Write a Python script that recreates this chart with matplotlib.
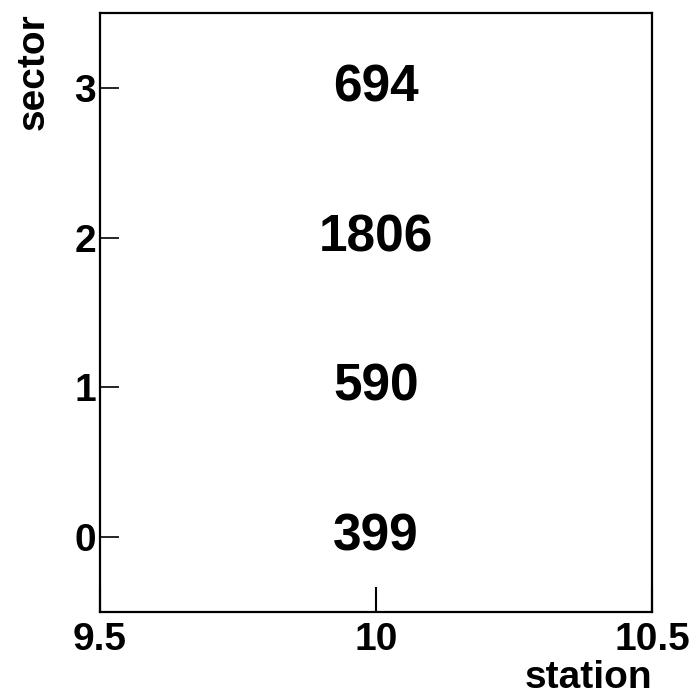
import numpy as np
import matplotlib
matplotlib.use('Agg')
import matplotlib.pyplot as plt

station = [10, 10, 10, 10]
sector = [0, 1, 2, 3]
counts = [399, 590, 1806, 694]

plt.rcParams['font.family'] = ['Liberation Sans', 'DejaVu Sans']
plt.rcParams['font.weight'] = 'bold'

fig = plt.figure(figsize=(6.91, 6.98), dpi=100)
ax = fig.add_axes([100/691, 1-612/698, 552/691, 599/698])

for s, y, c in zip(station, sector, counts):
    ax.text(s, y, str(c), ha='center', va='center', fontsize=37, fontweight='bold')

ax.set_xlim(9.5, 10.5)
ax.set_ylim(-0.5, 3.5)
ax.set_xticks([9.5, 10, 10.5])
ax.set_xticklabels(['9.5', '10', '10.5'])
ax.set_yticks([0, 1, 2, 3])
ax.tick_params(axis='x', direction='in', length=18, width=1.5, labelsize=28, pad=7, top=False)
ax.tick_params(axis='y', direction='in', length=14, width=1.2, labelsize=28, pad=3, right=False)
for sp in ax.spines.values():
    sp.set_linewidth(1.6)

ax.set_xlabel('station', fontsize=28, fontweight='bold', loc='right', labelpad=2)
ax.set_ylabel('sector', fontsize=28, fontweight='bold', loc='top', labelpad=16)

plt.savefig('out.png')
plt.close()
